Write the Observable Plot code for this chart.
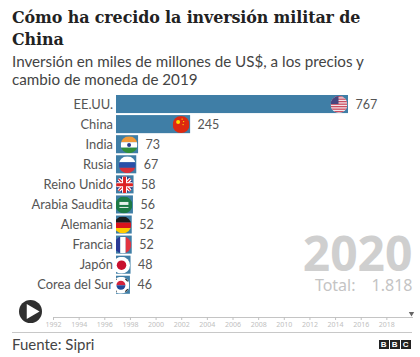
<!DOCTYPE html>
<html><head><meta charset="utf-8">
<script src="https://cdn.jsdelivr.net/npm/d3@7"></script>
<script src="https://cdn.jsdelivr.net/npm/@observablehq/plot@0.6"></script>
<style>
html,body{margin:0;padding:0;background:#fff;width:420px;height:357px;overflow:hidden}
body{position:relative}
div.t{position:absolute;white-space:nowrap}
#title{left:12px;top:7px;font:bold 15.9px/22px "DejaVu Serif",serif;color:#222;letter-spacing:-.1px}
#sub{left:12px;top:52px;font:15.2px/18px "Lato",sans-serif;color:#444}
#main{position:absolute;left:0;top:90px}
#time{position:absolute;left:0;top:295px}
#sep{position:absolute;left:12px;top:332px;width:400px;height:1px;background:#c8c8c8}
#src{left:12px;top:335px;font:15px/18px "Lato",sans-serif;color:#444}
#logo{position:absolute;left:379px;top:340px;display:flex;gap:1.5px}
#logo span{display:block;width:9.5px;height:9px;background:#222;color:#fff;font:bold 8px/9px "Liberation Sans",sans-serif;text-align:center}
svg{display:block}
</style></head><body>
<div class="t" id="title">Cómo ha crecido la inversión militar de<br>China</div>
<div class="t" id="sub">Inversión en miles de millones de US$, a los precios y<br>cambio de moneda de 2019</div>
<div id="main"></div><div id="time"></div><div id="sep"></div>
<div class="t" id="src">Fuente: Sipri</div>
<div id="logo"><span>B</span><span>B</span><span>C</span></div>
<script>
const countries=["EE.UU.","China","India","Rusia","Reino Unido","Arabia Saudita","Alemania","Francia","Japón","Corea del Sur"];
const spending=[767,245,73,67,58,56,52,52,48,46];
const years=[1992,1994,1996,1998,2000,2002,2004,2006,2008,2010,2012,2014,2016,2018];
const currentYear=2020;
const totalLabel="Total:";
const totalValue="1.818";

const svgFlag=b=>"data:image/svg+xml;utf8,"+encodeURIComponent(`<svg xmlns="http://www.w3.org/2000/svg" viewBox="0 0 34 34" width="34" height="34">${b}</svg>`);
const stripes=Array.from({length:7},(_,i)=>`<rect y="${i*5}" width="34" height="2.5" fill="#c9485b"/>`).join("");
const flags=[
 `<rect width="34" height="34" fill="#f3e6ea"/>${stripes}<rect width="16" height="16" fill="#46467f"/>`,
 `<rect width="34" height="34" fill="#de2910"/><circle cx="11" cy="12" r="4" fill="#ffde00"/><circle cx="19" cy="6" r="1.4" fill="#ffde00"/><circle cx="22" cy="11" r="1.4" fill="#ffde00"/><circle cx="21" cy="17" r="1.4" fill="#ffde00"/>`,
 `<rect width="34" height="12" fill="#f29a38"/><rect y="12" width="34" height="11" fill="#fff"/><rect y="23" width="34" height="11" fill="#2f8f3a"/><circle cx="17" cy="17.5" r="4" fill="#2a3a8c"/>`,
 `<rect width="34" height="12" fill="#fff"/><rect y="12" width="34" height="11" fill="#2a4fa8"/><rect y="23" width="34" height="11" fill="#d9303a"/>`,
 `<rect width="34" height="34" fill="#27337f"/><path d="M0 0L34 34M34 0L0 34" stroke="#fff" stroke-width="7"/><path d="M0 0L34 34M34 0L0 34" stroke="#d22" stroke-width="2.5"/><path d="M17 0V34M0 17H34" stroke="#fff" stroke-width="10"/><path d="M17 0V34M0 17H34" stroke="#d22" stroke-width="6"/>`,
 `<rect width="34" height="34" fill="#1d7a46"/><rect x="8" y="11" width="18" height="6" fill="#e6f0ea"/><rect x="8" y="21" width="18" height="2" fill="#e6f0ea"/>`,
 `<rect width="34" height="12" fill="#1b1b1b"/><rect y="12" width="34" height="11" fill="#d8141c"/><rect y="23" width="34" height="11" fill="#ffcc00"/>`,
 `<rect width="12" height="34" fill="#2a3a96"/><rect x="12" width="11" height="34" fill="#fff"/><rect x="23" width="11" height="34" fill="#e23340"/>`,
 `<rect width="34" height="34" fill="#fff"/><circle cx="17" cy="17" r="9.5" fill="#c8102e"/>`,
 `<rect width="34" height="34" fill="#fff"/><path d="M8 17a9 9 0 0 1 18 0z" fill="#d2233c"/><path d="M8 17a9 9 0 0 0 18 0z" fill="#1f4a9a"/><path d="M3 9l5-5M26 4l5 5M3 25l5 5M26 30l5-5" stroke="#333" stroke-width="3"/>`
].map(svgFlag);

const rows=countries.map((name,i)=>({name,value:spending[i],flag:flags[i]}));
const ink="#555";

const main=Plot.plot({
  width:420,height:207,marginLeft:116,marginRight:72,marginTop:3,marginBottom:1.2,
  style:{background:"transparent",fontFamily:'"Lato",sans-serif',overflow:"visible"},
  x:{domain:[0,767],axis:null},
  y:{domain:countries,padding:0.1,round:false,label:null,axis:null},
  marks:[
    Plot.barX(rows,{x:"value",y:"name",fill:"#3f7ea6"}),
    Plot.image(rows,{x:"value",y:"name",src:"flag",r:8.5,dx:-9.5,clip:"frame"}),
    Plot.axisY({anchor:"left",tickSize:0,tickPadding:3.5,label:null,fontSize:12.9,color:ink}),
    Plot.text(rows,{x:"value",y:"name",text:d=>String(d.value),textAnchor:"start",dx:7,fontSize:12.5,fill:ink}),
    Plot.text([String(currentYear)],{frameAnchor:"bottom-right",dx:64,dy:-25,textAnchor:"end",lineAnchor:"bottom",fontSize:48,fontWeight:"bold",fill:"#cfcfcf",fontFamily:'"Noto Sans",sans-serif'}),
    Plot.text([totalValue],{frameAnchor:"bottom-right",dx:64,dy:-5,textAnchor:"end",lineAnchor:"bottom",fontSize:16,fill:"#c4c4c4",fontFamily:'"Noto Sans",sans-serif'}),
    Plot.text([totalLabel],{frameAnchor:"bottom-right",dx:7,dy:-5,textAnchor:"end",lineAnchor:"bottom",fontSize:16,fill:"#c4c4c4",fontFamily:'"Noto Sans",sans-serif'})
  ]
});
document.getElementById("main").append(main);

const time=Plot.plot({
  width:420,height:37,marginLeft:53,marginRight:8,marginTop:5,marginBottom:15,
  style:{background:"transparent",fontFamily:'"Noto Sans",sans-serif',overflow:"visible"},
  x:{domain:[1992,2020],axis:null},
  marks:[
    Plot.frame({anchor:"bottom",stroke:"#c4c4c4"}),
    Plot.axisX({ticks:years,tickFormat:"d",tickSize:3,tickPadding:2,fontSize:7,color:"#c0c0c0",label:null}),
    Plot.dot([currentYear],{x:d=>d,frameAnchor:"bottom",dy:-4,symbol:"triangle",r:2,fill:"#666",rotate:180,dx:-1}),
    Plot.dot([0],{frameAnchor:"bottom-left",dx:-23,dy:-6,r:11.5,fill:"#2f2f2f",stroke:"none"}),
    Plot.dot([0],{frameAnchor:"bottom-left",dx:-22.5,dy:-6,r:5.5,symbol:"triangle",rotate:90,fill:"#fff",stroke:"none"})
  ]
});
document.getElementById("time").append(time);
</script></body></html>
